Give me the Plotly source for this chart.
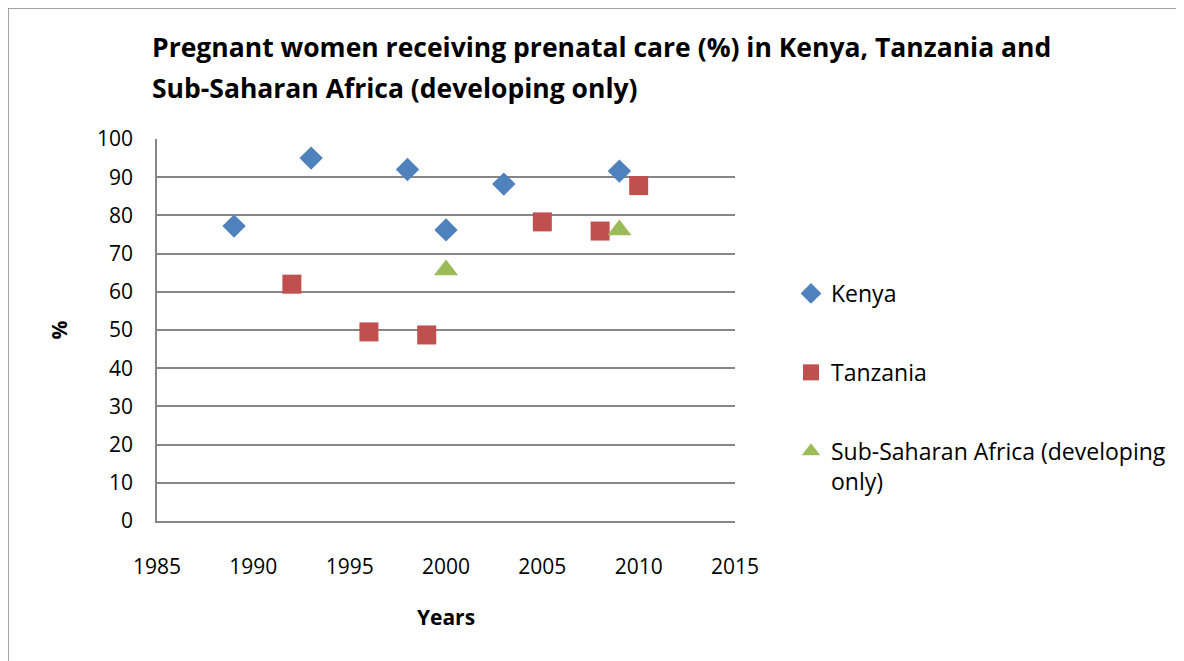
import plotly.graph_objects as go

kenya_years = [1989, 1993, 1998, 2000, 2003, 2009]
kenya_vals = [77.2, 95.0, 92.0, 76.2, 88.2, 91.6]
tz_years = [1992, 1996, 1999, 2005, 2008, 2010]
tz_vals = [62.0, 49.5, 48.7, 78.3, 75.9, 87.8]
ssa_years = [2000, 2009]
ssa_vals = [65.7, 76.2]
title_lines = ["Pregnant women receiving prenatal care (%) in Kenya, Tanzania and",
               "Sub-Saharan Africa (developing only)"]

W, H = 1184, 661
OFF = 8  # page body margin
L, R, T, B = 157 - OFF, 735 - OFF, 139 - OFF, 521 - OFF
FONT = "Open Sans"

def px_x(p):
    return (p - OFF - L) / (R - L)

def px_y(p):
    return (B - (p - OFF)) / (B - T)

fig = go.Figure()
fig.add_trace(go.Scatter(x=kenya_years, y=kenya_vals, mode="markers", name="Kenya",
                         legendgroup="a",
                         marker=dict(symbol="diamond", size=18, color="#4F81BD")))
fig.add_trace(go.Scatter(x=tz_years, y=tz_vals, mode="markers", name="Tanzania",
                         legendgroup="b",
                         marker=dict(symbol="square", size=19, color="#C0504D")))
fig.add_trace(go.Scatter(x=ssa_years, y=ssa_vals, mode="markers",
                         name="Sub-Saharan Africa (developing<br>only)",
                         legendgroup="c",
                         marker=dict(symbol="triangle-up", size=21, color="#9BBB59")))

annots = []
for i, (line, yc) in enumerate(zip(title_lines, [47, 88])):
    annots.append(dict(text="<b>" + line + "</b>", xref="paper", yref="paper",
                       x=px_x(150), y=px_y(yc), xanchor="left", yanchor="middle",
                       align="left", showarrow=False,
                       font=dict(family=FONT, size=26.5, color="#000000")))

fig.update_layout(
    width=W, height=H,
    margin=dict(l=L, r=W - R, t=T, b=H - B),
    paper_bgcolor="white", plot_bgcolor="white",
    font=dict(family=FONT, size=21, color="#000000"),
    showlegend=True,
    legend=dict(x=px_x(791), y=px_y(272), xanchor="left", yanchor="top",
                traceorder="grouped", tracegroupgap=46, valign="top",
                font=dict(family=FONT, size=23, color="#000000"),
                itemwidth=30, bgcolor="rgba(0,0,0,0)"),
    xaxis=dict(range=[1985, 2015], tickmode="linear", tick0=1985, dtick=5,
               showgrid=False, showline=True, linecolor="#868686", linewidth=1.5,
               ticks="", zeroline=False, ticklabelstandoff=26,
               tickfont=dict(family=FONT, size=21),
               title=dict(text="<b>Years</b>", font=dict(family=FONT, size=21), standoff=31)),
    yaxis=dict(range=[0, 100], tickmode="linear", tick0=0, dtick=10,
               showgrid=True, gridcolor="#868686", gridwidth=1.5,
               showline=True, linecolor="#868686", linewidth=1.5,
               ticks="", zeroline=False, ticklabelstandoff=18,
               tickfont=dict(family=FONT, size=21),
               title=dict(text="<b>%</b>", font=dict(family=FONT, size=21), standoff=24)),
    annotations=annots,
    shapes=[dict(type="rect", xref="paper", yref="paper",
                 x0=px_x(8), x1=px_x(1300), y0=px_y(900), y1=px_y(8),
                 line=dict(color="#868686", width=1.5), layer="below")],
)

fig.write_html("out.html")
